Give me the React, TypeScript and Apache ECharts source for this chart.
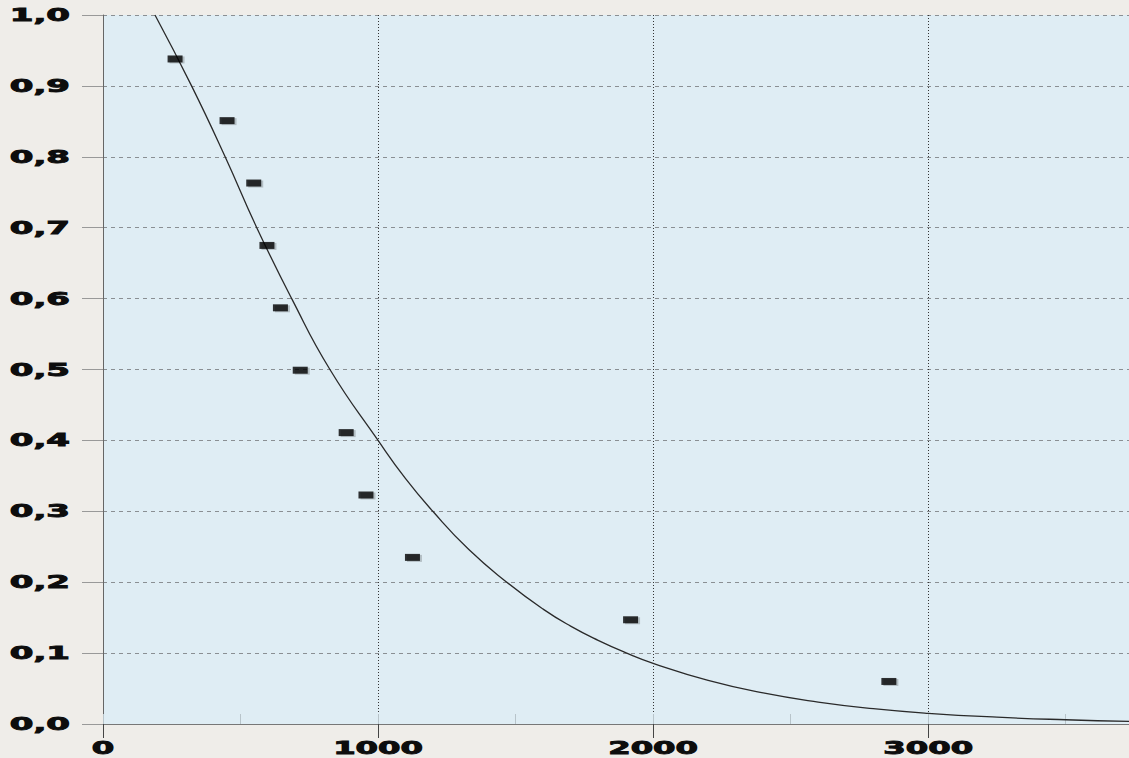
import React, { useEffect, useRef } from "react";
import * as echarts from "echarts";

// Observed points (x, probability)
const pointX = [262, 451, 548, 596, 645, 717, 884, 956, 1125, 1918, 2857];
const pointY = [0.938, 0.851, 0.763, 0.675, 0.587, 0.499, 0.411, 0.323, 0.235, 0.147, 0.06];

// Fitted curve
const curveX = [189, 322, 444, 559, 686, 825, 1000, 1100, 1199, 1330, 1468, 1600, 1700, 1800, 1904, 2000, 2200, 2400, 2600, 2800, 3000, 3250, 3500, 3730];
const curveY = [1.0, 0.9, 0.8, 0.7, 0.6, 0.5, 0.4, 0.346, 0.3, 0.246, 0.2, 0.162, 0.138, 0.118, 0.1, 0.0856, 0.0616, 0.0438, 0.031, 0.0217, 0.0151, 0.0096, 0.006, 0.0038];

const xTicks = [0, 1000, 2000, 3000];
const xTickLabels = ["0", "1000", "2000", "3000"];
const yTicks = [0, 0.1, 0.2, 0.3, 0.4, 0.5, 0.6, 0.7, 0.8, 0.9, 1.0];
const yTickLabels = ["0,0", "0,1", "0,2", "0,3", "0,4", "0,5", "0,6", "0,7", "0,8", "0,9", "1,0"];

const X_MAX = 3730;

export default function App() {
  const ref = useRef<HTMLDivElement>(null);
  useEffect(() => {
    if (!ref.current) return;
    const chart = echarts.init(ref.current, null, { renderer: "svg" });
    const labelFont = {
      fontFamily: "DejaVu Sans",
      fontWeight: "bold" as const,
      fontSize: 17,
      fill: "#0d0d0d",
      stroke: "#0d0d0d",
      lineWidth: 0.9,
    };
    chart.setOption({
      animation: false,
      backgroundColor: "#efede9",
      grid: {
        left: 103,
        top: 15,
        right: 0,
        bottom: 34,
        show: true,
        backgroundColor: "#dfedf4",
        borderWidth: 0,
      },
      xAxis: [
        {
          type: "value",
          min: 0,
          max: X_MAX,
          interval: 1000,
          axisLine: { show: true, onZero: false, lineStyle: { color: "#777", width: 1 } },
          axisTick: { show: true, length: 14, lineStyle: { color: "#444", width: 1 } },
          axisLabel: { show: false },
          splitLine: { show: true, lineStyle: { color: "#333", type: [1, 2], width: 1 } },
        },
        {
          type: "value",
          min: 0,
          max: X_MAX,
          interval: 500,
          position: "bottom",
          axisLine: { show: false },
          axisTick: { show: true, inside: true, length: 10, lineStyle: { color: "#b8c4ca", width: 1 } },
          axisLabel: { show: false },
          splitLine: { show: false },
        },
      ],
      yAxis: {
        type: "value",
        min: 0,
        max: 1,
        interval: 0.1,
        axisLine: { show: true, lineStyle: { color: "#666", width: 1 } },
        axisTick: { show: true, length: 21, lineStyle: { color: "#999", width: 1 } },
        axisLabel: { show: false },
        splitLine: { show: true, lineStyle: { color: "#8a8f93", type: [4, 4], width: 1 } },
      },
      series: [
        {
          type: "line",
          data: curveX.map((x, i) => [x, curveY[i]]),
          smooth: 0.5,
          showSymbol: false,
          lineStyle: { color: "#2a2a2a", width: 1.3 },
          z: 3,
        },
        {
          type: "scatter",
          data: pointX.map((x, i) => [x, pointY[i]]),
          symbol: "rect",
          symbolSize: [15, 7],
          itemStyle: {
            color: "#000",
            shadowColor: "rgba(0,0,0,0.25)",
            shadowBlur: 1,
            shadowOffsetX: 2,
            shadowOffsetY: 1,
          },
          z: 4,
        },
      ],
    });

    const graphics: any[] = [];
    yTicks.forEach((v, i) => {
      const p = chart.convertToPixel({ gridIndex: 0 }, [0, v]) as number[];
      graphics.push({
        type: "text",
        x: 70,
        y: p[1],
        scaleX: 2.0,
        style: { ...labelFont, text: yTickLabels[i], align: "right", verticalAlign: "middle" },
      });
    });
    xTicks.forEach((v, i) => {
      const p = chart.convertToPixel({ gridIndex: 0 }, [v, 0]) as number[];
      graphics.push({
        type: "text",
        x: p[0],
        y: p[1] + 24,
        scaleX: 1.9,
        style: { ...labelFont, text: xTickLabels[i], align: "center", verticalAlign: "middle" },
      });
    });
    chart.setOption({ graphic: graphics });

    return () => chart.dispose();
  }, []);
  return (
    <div
      ref={ref}
      style={{ position: "fixed", left: 0, top: 0, width: 1129, height: 758 }}
    />
  );
}
